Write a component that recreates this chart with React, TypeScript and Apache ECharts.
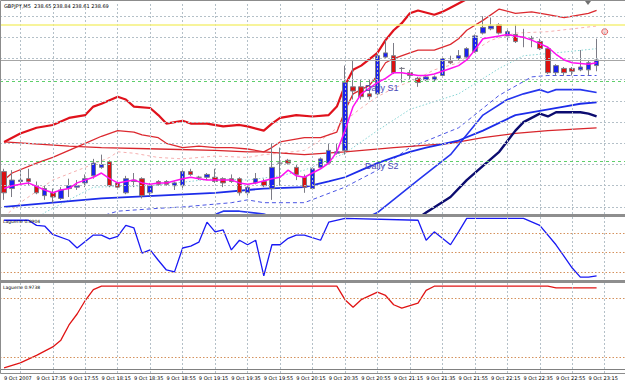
import React, { useEffect, useRef } from "react";
import * as echarts from "echarts";

// ---- time axis ----
const START_MIN = 17 * 60 + 15; // first bar 17:15, M5 bars
const BAR_COUNT_AXIS = 77;
const tickLabels = [
  "9 Oct 2007", "9 Oct 17:35", "9 Oct 17:55", "9 Oct 18:15", "9 Oct 18:35", "9 Oct 18:55",
  "9 Oct 19:15", "9 Oct 19:35", "9 Oct 19:55", "9 Oct 20:15", "9 Oct 20:35", "9 Oct 20:55",
  "9 Oct 21:15", "9 Oct 21:35", "9 Oct 21:55", "9 Oct 22:15", "9 Oct 22:35", "9 Oct 22:55", "9 Oct 23:15",
];
const gridBars = [2, 6, 10, 14, 18, 22, 26, 30, 34, 38, 42, 46, 50, 54, 58, 62, 66, 70, 74];

// ---- candles (GBPJPY M5) ----
const open = [237.90,237.78,237.83,237.85,237.80,237.73,237.75,237.71,237.78,237.79,
237.82,237.87,237.93,237.97,237.82,237.75,237.83,237.85,237.75,237.83,
237.83,237.80,237.80,237.90,237.86,237.86,237.86,237.85,237.85,237.85,
237.75,237.82,237.83,237.78,237.96,237.98,237.93,237.86,237.78,237.93,
237.96,238.03,238.05,238.50,238.50,238.45,238.45,238.71,238.72,238.63,
238.60,238.56,238.55,238.55,238.58,238.68,238.70,238.71,238.75,238.88,
238.91,238.94,238.86,238.87,238.85,238.84,238.82,238.77,238.60,238.63,
238.63,238.62,238.62,238.65];
const close = [237.75,237.84,237.84,237.83,237.75,237.78,237.72,237.77,237.80,237.80,
237.85,237.96,237.95,237.80,237.79,237.85,237.84,237.73,237.80,237.81,
237.81,237.82,237.90,237.88,237.86,237.88,237.83,237.82,237.83,237.75,
237.79,237.85,237.80,237.93,237.96,237.96,237.88,237.79,237.92,237.99,
238.05,238.04,238.53,238.47,238.43,238.43,238.72,238.74,238.60,238.63,
238.58,238.53,238.57,238.57,238.70,238.67,238.72,238.77,238.86,238.92,
238.93,238.88,238.89,238.82,238.85,238.84,238.77,238.60,238.65,238.60,
238.61,238.64,238.67,238.69];
const low = [237.70,237.72,237.81,237.80,237.74,237.70,237.68,237.70,237.72,237.77,
237.79,237.85,237.92,237.79,237.78,237.74,237.79,237.71,237.73,237.80,
237.80,237.77,237.78,237.87,237.84,237.84,237.82,237.79,237.82,237.73,
237.73,237.81,237.79,237.70,237.80,237.95,237.84,237.75,237.77,237.92,
237.95,238.02,238.02,238.41,238.41,238.41,238.44,238.70,238.59,238.53,
238.55,238.50,238.54,238.54,238.57,238.66,238.69,238.70,238.74,238.87,
238.90,238.87,238.82,238.81,238.78,238.78,238.76,238.59,238.58,238.58,
238.58,238.61,238.58,238.61];
const high = [237.92,237.91,237.92,237.92,237.83,237.80,237.78,237.79,237.85,237.84,
237.88,237.99,238.02,237.98,237.84,237.87,237.89,237.86,237.82,237.84,
237.84,237.83,237.91,237.92,237.87,237.89,237.92,237.86,237.88,237.86,
237.80,237.89,237.85,238.10,238.07,237.99,237.95,237.88,237.93,238.00,
238.10,238.10,238.65,238.69,238.55,238.55,238.74,238.83,238.81,238.64,
238.62,238.57,238.58,238.58,238.71,238.72,238.76,238.78,238.87,239.00,
238.99,238.95,238.91,238.94,238.91,238.86,238.84,238.78,238.66,238.64,
238.64,238.76,238.69,238.84];

// ---- overlay indicator lines: [bar index, price] ----
const thickRedBand = [[0,238.11],[1,238.14],[2,238.17],[4,238.21],[6,238.23],[8,238.28],[10,238.30],[11,238.36],[12,238.38],[14,238.43],[15,238.41],[16,238.36],[18,238.35],[19,238.30],[20,238.24],[22,238.26],[23,238.24],[25,238.24],[27,238.22],[29,238.23],[30,238.22],[32,238.19],[33,238.24],[34,238.28],[36,238.30],[38,238.29],[40,238.30],[41,238.36],[42,238.51],[43,238.62],[44,238.65],[46,238.74],[47,238.83],[48,238.90],[49,238.95],[50,239.02],[51,239.04],[53,239.01],[54,239.03],[55,239.06],[57,239.12],[59,239.22],[61,239.30],[73,239.35]];
const innerRedBand = [[0,237.84],[1,237.89],[4,237.96],[6,238.00],[8,238.05],[10,238.10],[12,238.15],[14,238.19],[16,238.18],[17,238.16],[19,238.14],[20,238.10],[22,238.07],[24,238.08],[26,238.07],[28,238.07],[30,238.06],[32,238.04],[33,238.07],[34,238.11],[37,238.14],[39,238.14],[41,238.18],[42,238.33],[43,238.45],[45,238.51],[46,238.58],[47,238.67],[48,238.70],[50,238.74],[51,238.76],[53,238.76],[55,238.80],[56,238.84],[57,238.90],[59,238.97],[61,239.05],[63,239.02],[65,239.03],[67,239.01],[69,238.99],[72,239.02],[73,239.04]];
const redMA = [[0,238.11],[8,238.08],[12,238.07],[19,238.06],[26,238.05],[30,238.04],[32,238.04],[37,238.02],[42,238.04],[48,238.07],[55,238.10],[59,238.14],[63,238.17],[67,238.19],[73,238.21]];
const pinkDash = [[0,237.58],[2,237.68],[6,237.84],[10,237.93],[13,238.00],[14,238.04],[16,238.03],[19,238.00],[22,237.99],[26,238.01],[30,238.00],[32,238.02],[34,238.03],[37,238.05],[40,238.16],[42,238.26],[44,238.35],[46,238.43],[48,238.49],[51,238.56],[53,238.62],[56,238.67],[58,238.76],[60,238.83],[63,238.88],[67,238.89],[70,238.91],[73,238.93]];
const tealDot = [[3,237.52],[5,237.61],[11,237.79],[18,237.80],[26,237.85],[30,237.84],[34,237.87],[37,237.91],[42,238.03],[46,238.19],[50,238.34],[56,238.45],[61,238.63],[64,238.72],[68,238.74],[73,238.77]];
const magentaMA = [[0,237.78],[1,237.80],[2,237.81],[3,237.82],[5,237.77],[6,237.75],[7,237.77],[8,237.78],[9,237.82],[11,237.86],[12,237.89],[13,237.85],[14,237.82],[16,237.84],[17,237.82],[18,237.81],[19,237.82],[20,237.82],[22,237.85],[23,237.86],[24,237.85],[25,237.84],[26,237.84],[28,237.84],[29,237.82],[30,237.81],[31,237.82],[33,237.85],[34,237.86],[35,237.91],[36,237.87],[37,237.86],[39,237.92],[40,237.96],[41,238.04],[42,238.19],[43,238.36],[44,238.45],[46,238.53],[47,238.56],[48,238.60],[49,238.60],[51,238.58],[52,238.58],[53,238.59],[55,238.63],[56,238.65],[57,238.69],[58,238.76],[59,238.84],[61,238.86],[62,238.87],[63,238.86],[64,238.85],[65,238.83],[67,238.78],[68,238.73],[69,238.69],[70,238.67],[72,238.66],[73,238.67]];
const blueMA = [[0,237.65],[6,237.68],[12,237.71],[19,237.73],[26,237.75],[32,237.78],[37,237.79],[40,237.83],[42,237.86],[44,237.91],[46,237.96],[48,238.00],[50,238.04],[52,238.07],[56,238.12],[59,238.19],[63,238.30],[66,238.33],[69,238.36],[71,238.38],[73,238.39]];
const blueLowerBand = [[24,237.55],[27,237.62],[29,237.62],[32,237.60],[34,237.56],[38,237.52],[43,237.53],[46,237.61],[51,237.84],[55,238.02],[57,238.16],[59,238.30],[62,238.41],[64,238.45],[66,238.48],[67,238.46],[68,238.48],[71,238.48],[73,238.46]];
const navyLine = [[48,237.45],[52,237.61],[55,237.72],[57,237.84],[59,237.94],[61,238.04],[63,238.19],[64,238.25],[65,238.28],[66,238.31],[67,238.29],[68,238.32],[71,238.32],[72,238.31],[73,238.29]];
const blueDashBand = [[10,237.55],[14,237.62],[19,237.64],[22,237.65],[28,237.68],[30,237.70],[32,237.68],[37,237.68],[42,237.79],[46,237.91],[50,238.07],[56,238.21],[61,238.44],[65,238.57],[67,238.58],[73,238.58]];
const arrowMark = [[74, 238.89]];

// ---- horizontal levels ----
const priceGrid = [239.00, 238.85, 238.70, 238.55, 238.40, 238.25, 238.10, 237.95, 237.80, 237.65];
const yellowLevel = 238.94;
const bidLevel = 238.69;
const dailyS1 = 238.54;
const dailyS2 = 237.97;

// ---- Laguerre sub-windows ----
const laguerreFast = [[0,0.95],[3,0.95],[4,0.87],[5,0.86],[6,0.73],[8,0.64],[9,0.52],[11,0.72],[12,0.72],[13,0.66],[14,0.70],[15,0.87],[16,0.83],[17,0.44],[18,0.49],[19,0.33],[20,0.18],[21,0.15],[22,0.52],[23,0.55],[24,0.61],[25,0.92],[26,0.77],[27,0.80],[28,0.49],[29,0.64],[30,0.57],[31,0.64],[32,0.09],[33,0.57],[34,0.57],[35,0.67],[36,0.72],[37,0.72],[39,0.64],[40,0.92],[42,0.98],[51,0.95],[52,0.64],[53,0.77],[55,0.57],[56,0.77],[57,0.98],[64,0.98],[66,0.87],[68,0.57],[70,0.21],[71,0.07],[72,0.07],[73,0.09]];
const laguerreSlow = [[0,0.02],[2,0.08],[4,0.17],[6,0.27],[7,0.35],[8,0.53],[9,0.66],[10,0.82],[11,0.95],[12,0.99],[41,0.99],[42,0.83],[43,0.74],[44,0.83],[46,0.92],[47,0.88],[48,0.77],[49,0.73],[51,0.79],[52,0.94],[53,0.99],[67,0.99],[68,0.97],[73,0.97]];
const fastLevels = [0.75, 0.45, 0.15];
const slowLevels = [0.85, 0.15];

const GRID_COLOR = "#b4c0c8";
const LEVEL_COLOR = "#d4915c";

function pad(n: number) { return n < 10 ? "0" + n : "" + n; }

export default function App() {
  const ref = useRef<HTMLDivElement>(null);
  useEffect(() => {
    if (!ref.current) return;
    const chart = echarts.init(ref.current, undefined, { renderer: "svg" });
    const cats = Array.from({ length: BAR_COUNT_AXIS }, (_, i) => {
      const m = START_MIN + 5 * i;
      return pad(Math.floor(m / 60)) + ":" + pad(m % 60);
    });
    const candles = open.map((o, i) => [o, close[i], low[i], high[i]]);
    const bandW = 8.2;
    const gLeft = -1.4;
    const gWidth = BAR_COUNT_AXIS * bandW;
    const grids = [
      { left: gLeft, top: 2, width: gWidth, height: 212 },
      { left: gLeft, top: 217, width: gWidth, height: 62 },
      { left: gLeft, top: 283, width: gWidth, height: 90 },
    ];
    const xAxes = grids.map((_, gi) => ({
      type: "category",
      gridIndex: gi,
      data: cats,
      boundaryGap: true,
      axisLine: { show: gi === 2, lineStyle: { color: "#808080", width: 1 } },
      axisTick: { show: false },
      splitLine: { show: false },
      axisLabel: gi === 2
        ? {
            show: true,
            interval: (idx: number) => idx % 4 === 0 && idx / 4 < tickLabels.length,
            formatter: (_v: string, idx: number) => tickLabels[idx / 4] || "",
            align: "left",
            margin: 2,
            fontSize: 5,
            color: "#000",
            fontFamily: "DejaVu Sans",
          }
        : { show: false },
    }));
    const yAxes = [
      { type: "value", gridIndex: 0, min: 237.6, max: 239.1, show: false, splitLine: { show: false } },
      { type: "value", gridIndex: 1, min: 0.04, max: 1.0, show: false, splitLine: { show: false } },
      { type: "value", gridIndex: 2, min: -0.04, max: 1.028, show: false, splitLine: { show: false } },
    ];
    const dashed = { color: GRID_COLOR, width: 1, type: [2, 2] as any };
    const vLines = gridBars.map((b) => ({ xAxis: b, lineStyle: dashed }));
    const gridSeries = (gi: number, hLevels: number[], hStyle: any) => ({
      type: "line",
      xAxisIndex: gi,
      yAxisIndex: gi,
      data: [],
      silent: true,
      markLine: {
        silent: true,
        symbol: "none",
        label: { show: false },
        animation: false,
        data: [...vLines, ...hLevels.map((v) => ({ yAxis: v, lineStyle: hStyle }))],
      },
    });
    const line = (name: string, data: number[][], color: string, width: number, type: any = "solid", gi = 0, z = 3) => ({
      name,
      type: "line",
      xAxisIndex: gi,
      yAxisIndex: gi,
      data,
      symbol: "none",
      smooth: false,
      clip: true,
      z,
      lineStyle: { color, width, type },
      silent: true,
    });

    chart.setOption({
      animation: false,
      backgroundColor: "#ffffff",
      grid: grids,
      xAxis: xAxes,
      yAxis: yAxes,
      series: [
        gridSeries(0, priceGrid, dashed),
        {
          type: "line",
          data: [],
          silent: true,
          markLine: {
            silent: true,
            symbol: "none",
            label: { show: false },
            data: [
              { yAxis: yellowLevel, lineStyle: { color: "#f4f07a", width: 1.6, type: "solid" } },
              { yAxis: bidLevel, lineStyle: { color: "#a6a6a6", width: 1.2, type: "solid" } },
              { yAxis: dailyS1, lineStyle: { color: "#5fcf6a", width: 1, type: [3, 3] } },
              { yAxis: dailyS2, lineStyle: { color: "#5fcf6a", width: 1, type: [3, 3] } },
            ],
          },
        },
        line("pink", pinkDash, "#f5b0b0", 1, [3, 3]),
        line("teal", tealDot, "#86d4d4", 1, [1.5, 2]),
        line("blueDash", blueDashBand, "#4a55e4", 1, [4, 3]),
        line("redMA", redMA, "#d8262c", 1.3),
        line("innerRed", innerRedBand, "#dc2a30", 1.3),
        line("thickRed", thickRedBand, "#e0121c", 2.2),
        line("blueLower", blueLowerBand, "#2636ee", 1.6),
        line("blueMA", blueMA, "#1c2cea", 1.8),
        line("navy", navyLine, "#0c0c70", 2.4),
        {
          type: "candlestick",
          data: candles,
          barWidth: 5,
          z: 4,
          silent: true,
          itemStyle: {
            color: "#1a22f0",
            color0: "#dc1010",
            borderColor: "#7c7c86",
            borderColor0: "#7c7c86",
            borderWidth: 1,
          },
        },
        line("magenta", magentaMA, "#ff10f0", 1.5, "solid", 0, 5),
        {
          type: "scatter",
          data: arrowMark,
          symbol: "circle",
          symbolSize: 6,
          silent: true,
          itemStyle: { color: "#f6c8c8", borderColor: "#e04040", borderWidth: 1 },
        },
        gridSeries(1, fastLevels, { color: LEVEL_COLOR, width: 1, type: [1.5, 2] }),
        line("lagFast", laguerreFast, "#1a1af4", 1.3, "solid", 1),
        gridSeries(2, slowLevels, { color: LEVEL_COLOR, width: 1, type: [1.5, 2] }),
        line("lagSlow", laguerreSlow, "#e01414", 1.3, "solid", 2),
      ],
      graphic: [
        { type: "rect", shape: { x: 0.5, y: 0.5, width: 640, height: 373 }, style: { fill: "none", stroke: "#8c8c8c", lineWidth: 1 }, silent: true, z: 10 },
        { type: "rect", shape: { x: 0, y: 214, width: 625, height: 3 }, style: { fill: "#8e8e8e" }, silent: true, z: 10 },
        { type: "rect", shape: { x: 0, y: 280, width: 625, height: 3 }, style: { fill: "#8e8e8e" }, silent: true, z: 10 },
        { type: "polygon", shape: { points: [[585, 1], [591, 1], [588, 5]] }, style: { fill: "#707070" }, silent: true, z: 10 },
        { type: "text", x: 4, y: 3, style: { text: "GBPJPY,M5  238.65 238.84 238.61 238.69", fontSize: 5, fontFamily: "DejaVu Sans", fill: "#000" }, silent: true, z: 11 },
        { type: "text", x: 365, y: 83, style: { text: "Daily S1", fontSize: 9, fontFamily: "Liberation Sans", fill: "#4848b8" }, silent: true, z: 11 },
        { type: "text", x: 365, y: 161, style: { text: "Daily S2", fontSize: 9, fontFamily: "Liberation Sans", fill: "#4848b8" }, silent: true, z: 11 },
        { type: "text", x: 3, y: 219, style: { text: "Laguerre 0.0904", fontSize: 4.5, fontFamily: "DejaVu Sans", fill: "#000" }, silent: true, z: 11 },
        { type: "text", x: 3, y: 285, style: { text: "Laguerre 0.9738", fontSize: 4.5, fontFamily: "DejaVu Sans", fill: "#000" }, silent: true, z: 11 },
      ],
    });
    return () => chart.dispose();
  }, []);
  return (
    <div
      ref={ref}
      style={{ position: "fixed", left: 0, top: 0, width: 625, height: 380, background: "#fff" }}
    />
  );
}
